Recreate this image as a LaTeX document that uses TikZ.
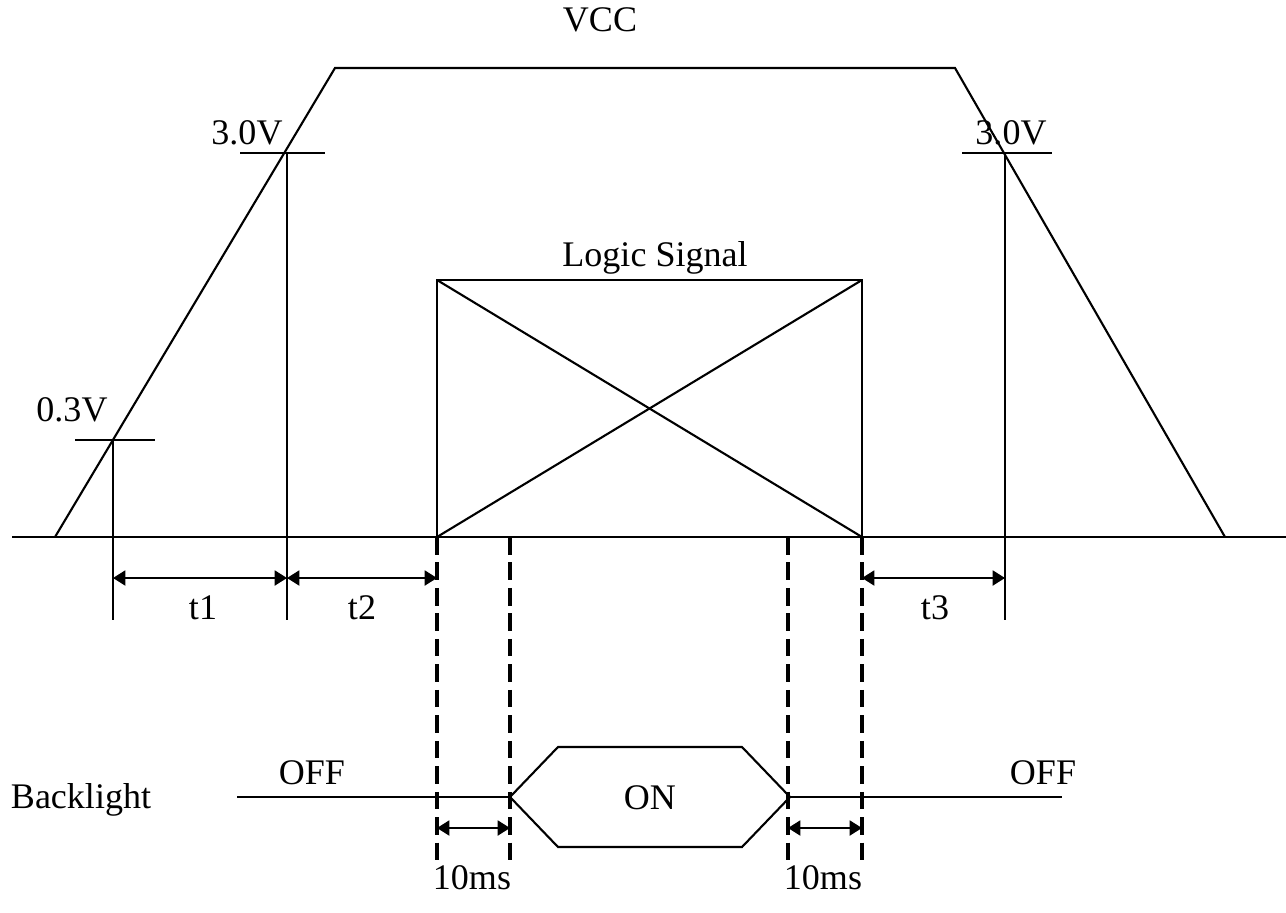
\documentclass[tikz,border=0pt]{standalone}
\usepackage{fontspec}
\setmainfont{Liberation Serif}
\usetikzlibrary{arrows.meta}
\begin{document}
\begin{tikzpicture}[x=0.02cm,y=-0.02cm,line width=1.2pt,
  dim/.style={{Triangle[length=7pt,width=8.5pt]}-{Triangle[length=7pt,width=8.5pt]}},
  guide/.style={line width=1.8pt,dash pattern=on 10pt off 4.5pt},
  every node/.style={font=\fontsize{20.5}{24}\selectfont,inner sep=0pt}]
\useasboundingbox (0,0) rectangle (1286,913);
% time axis
\draw (12,537) -- (1286,537);
% VCC ramp
\coordinate (v0) at (55,537);
\coordinate (v1) at (335,68);
\coordinate (v2) at (955,68);
\coordinate (v3) at (1225,537);
\draw (v0) -- (v1) -- (v2) -- (v3);
\node (vcc) at (600,20) {VCC};
% threshold marks
\draw (75,440) -- (155,440);
\draw (113,440) -- (113,620);
\node (lo) at (72,410) {0.3V};
\draw (240,153) -- (325,153);
\draw (287,153) -- (287,620);
\node (hil) at (247,133) {3.0V};
\draw (962,153) -- (1052,153);
\draw (1005,153) -- (1005,620);
\node (hir) at (1011,133) {3.0V};
% logic signal
\coordinate (a) at (437,280);
\coordinate (b) at (862,280);
\coordinate (c) at (862,537);
\coordinate (d) at (437,537);
\draw (a) rectangle (c);
\draw (a) -- (c);
\draw (b) -- (d);
\node (logic) at (655,258) {Logic Signal};
% timings
\draw [dim] (113,578) -- (287,578);
\draw [dim] (287,578) -- (437,578);
\draw [dim] (862,578) -- (1005,578);
\node (t1) at (203,608) {t1};
\node (t2) at (362,608) {t2};
\node (t3) at (935,608) {t3};
% guide lines
\draw [guide] (437,537) -- (437,862);
\draw [guide] (510,537) -- (510,862);
\draw [guide] (788,537) -- (788,862);
\draw [guide] (862,537) -- (862,862);
% backlight
\coordinate (on1) at (510,797);
\coordinate (on2) at (790,797);
\draw (237,797) -- (on1);
\draw (on1) -- (558,747) -- (742,747) -- (on2) -- (742,847) -- (558,847) -- cycle;
\draw (on2) -- (1062,797);
\node (on) at (650,798) {ON};
\node (offl) at (312,773) {OFF};
\node (offr) at (1043,773) {OFF};
\node (bl) at (81,800) {Backlight};
\draw [dim] (437,828) -- (510,828);
\draw [dim] (788,828) -- (862,828);
\node (ms1) at (472,878) {10ms};
\node (ms2) at (823,878) {10ms};
\end{tikzpicture}
\end{document}
